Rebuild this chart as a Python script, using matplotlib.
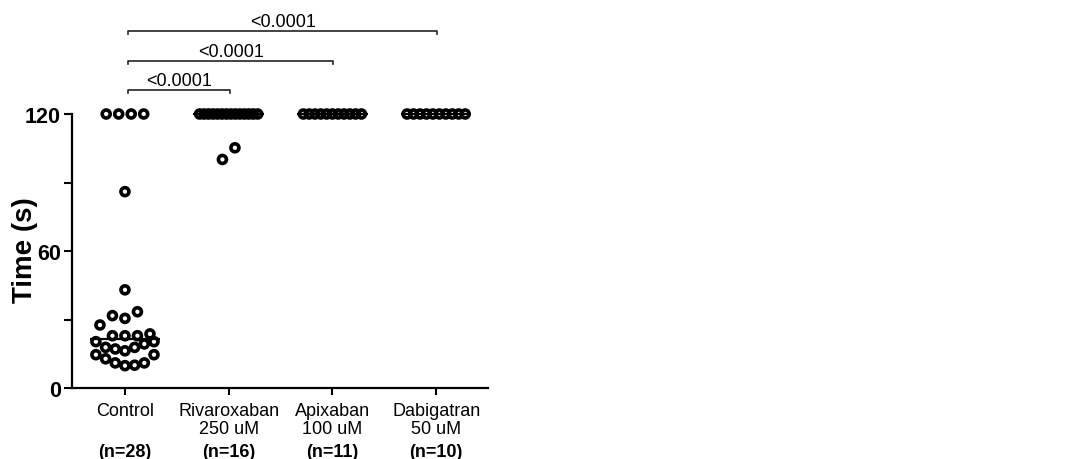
import numpy as np
import matplotlib
matplotlib.use("Agg")
import matplotlib.pyplot as plt

plt.rcParams["font.family"] = ["Liberation Sans", "DejaVu Sans"]

# ---- data -------------------------------------------------------------
groups = ["Control", "Rivaroxaban\n250 uM", "Apixaban\n100 uM", "Dabigatran\n50 uM"]

control = [120, 120, 120, 120, 86, 43,
           27.6, 31.7, 30.5, 33.4,
           22.9, 22.9, 22.9, 23.7,
           20.3, 17.8, 17.1, 16.3, 17.8, 19.3, 20.3,
           14.6, 12.8, 11.0, 9.8, 10.0, 11.0, 14.6]
rivaroxaban = [120, 120, 120, 120, 120, 120, 120, 120, 120, 120, 120, 120, 120, 120,
               100.1, 105.2]
apixaban = [120, 120, 120, 120, 120, 120, 120, 120, 120, 120, 120]
dabigatran = [120, 120, 120, 120, 120, 120, 120, 120, 120, 120]

series = [control, rivaroxaban, apixaban, dabigatran]

# pairwise comparisons against the control group: (group a, group b, label)
comparisons = [(0, 1, "<0.0001"), (0, 2, "<0.0001"), (0, 3, "<0.0001")]
comparison_levels = [130.5, 143.2, 156.4]

# ---- layout helpers ---------------------------------------------------
ROW_SPAN = 5.5      # values within this span share a row (data units)
MAX_STEP = 0.1205   # horizontal spacing of neighbours in a row (x units)
MAX_WIDTH = 0.56    # widest a row may spread (x units)


def scatter_offsets(values):
    """Bin values into rows and spread each row symmetrically."""
    values = np.asarray(values, dtype=float)
    order = np.argsort(values, kind="stable")
    rows, current, start = [], [], None
    for idx in order:
        v = values[idx]
        if start is None or v - start > ROW_SPAN:
            if current:
                rows.append(current)
            current, start = [idx], v
        else:
            current.append(idx)
    if current:
        rows.append(current)
    offsets = np.zeros(len(values))
    for row in rows:
        row = sorted(row)
        n = len(row)
        if n == 1:
            continue
        step = min(MAX_STEP, MAX_WIDTH / (n - 1))
        for k, idx in enumerate(row):
            offsets[idx] = (k - (n - 1) / 2) * step
    return offsets


# ---- figure -----------------------------------------------------------
fig = plt.figure(figsize=(10.77, 4.6), dpi=100)
ax = fig.add_axes([0.0669, 0.1543, 0.3862, 0.5957])

for i, vals in enumerate(series):
    offs = scatter_offsets(vals)
    ax.scatter(i + offs, vals, s=33, facecolors="none", edgecolors="black",
               linewidths=2.6, clip_on=False, zorder=3)
    med = np.median(vals)
    ax.plot([i - 0.34, i + 0.34], [med, med], color="black", lw=1.6,
            solid_capstyle="butt", clip_on=False, zorder=4)

ax.set_xlim(-0.51, 3.5)
ax.set_ylim(0, 120)

for side in ("top", "right"):
    ax.spines[side].set_visible(False)
for side in ("left", "bottom"):
    ax.spines[side].set_linewidth(1.6)

ax.set_yticks([0, 60, 120])
ax.set_yticks([30, 90], minor=True)
ax.tick_params(axis="y", which="both", length=6, width=1.5, pad=2)
ax.set_yticklabels(["0", "60", "120"], fontsize=15.5, fontweight="bold")

ax.set_xticks(range(len(groups)))
ax.set_xticklabels(groups, fontsize=13, linespacing=1.12)
ax.tick_params(axis="x", length=5, width=1.5, pad=5)

for i, vals in enumerate(series):
    ax.text(i, -27.6, f"(n={len(vals)})", ha="center", va="center",
            fontsize=13, fontweight="bold", clip_on=False)

ax.set_ylabel("Time (s)", fontsize=20, fontweight="bold")
ax.yaxis.set_label_coords(-0.083, 0.507)

# significance brackets
for (a, b, label), level in zip(comparisons, comparison_levels):
    xa, xb = a + 0.03, b + 0.01
    ax.plot([xa, xa, xb, xb], [level - 1.4, level, level, level - 1.4],
            color="#222222", lw=1.2, clip_on=False)
    ax.text((xa + xb) / 2, level + 2.2, label, ha="center", va="baseline",
            fontsize=13, clip_on=False)

fig.savefig("out.png", dpi=100)
